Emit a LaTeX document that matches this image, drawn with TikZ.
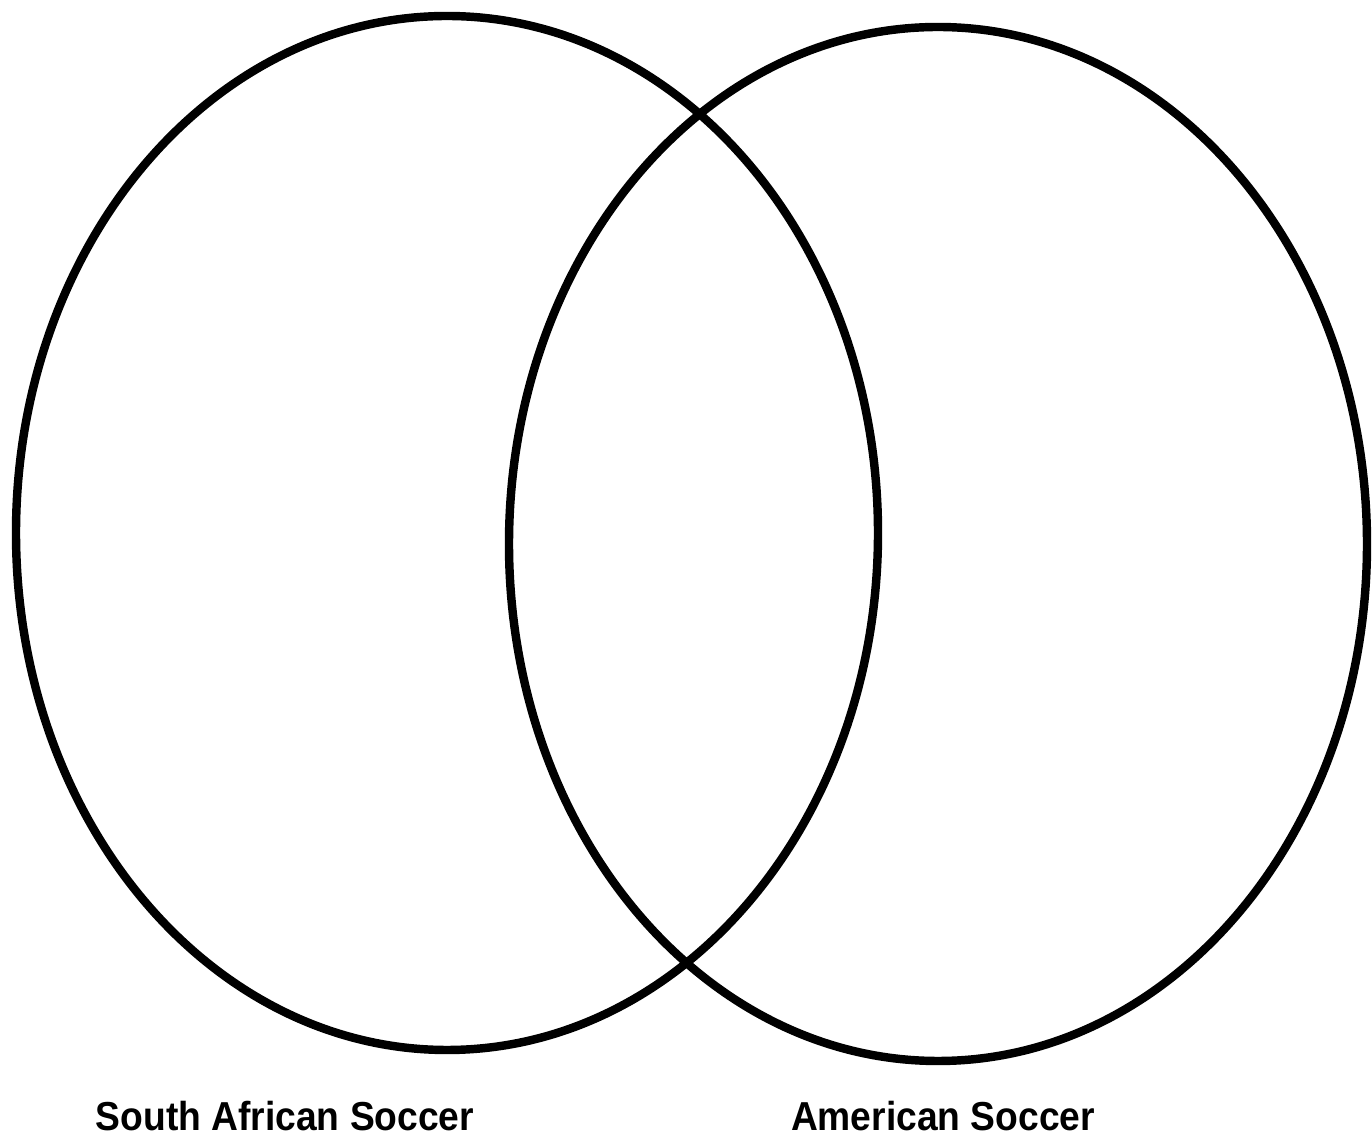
\documentclass[tikz,border=0pt]{standalone}
\usepackage{fontspec}
\setmainfont{Liberation Sans}
\usepackage{tikz}
\usetikzlibrary{positioning}

\begin{document}
\begin{tikzpicture}[x=0.01cm, y=-0.01cm, line width=2.4pt]
    \useasboundingbox (0, 0) rectangle (1372, 1137);
    % Sets
    \draw (447, 533) ellipse [x radius=431, y radius=517];
    \draw (938, 544) ellipse [x radius=429, y radius=517];

    % Labels
    \node[font=\bfseries\fontsize{11.5}{13}\selectfont, xscale=0.92, anchor=base] (south) at (285, 1131) {South African Soccer};
    \node[font=\bfseries\fontsize{11.5}{13}\selectfont, xscale=0.92, anchor=base] (american) at (943, 1131) {American Soccer};
\end{tikzpicture}
\end{document}
